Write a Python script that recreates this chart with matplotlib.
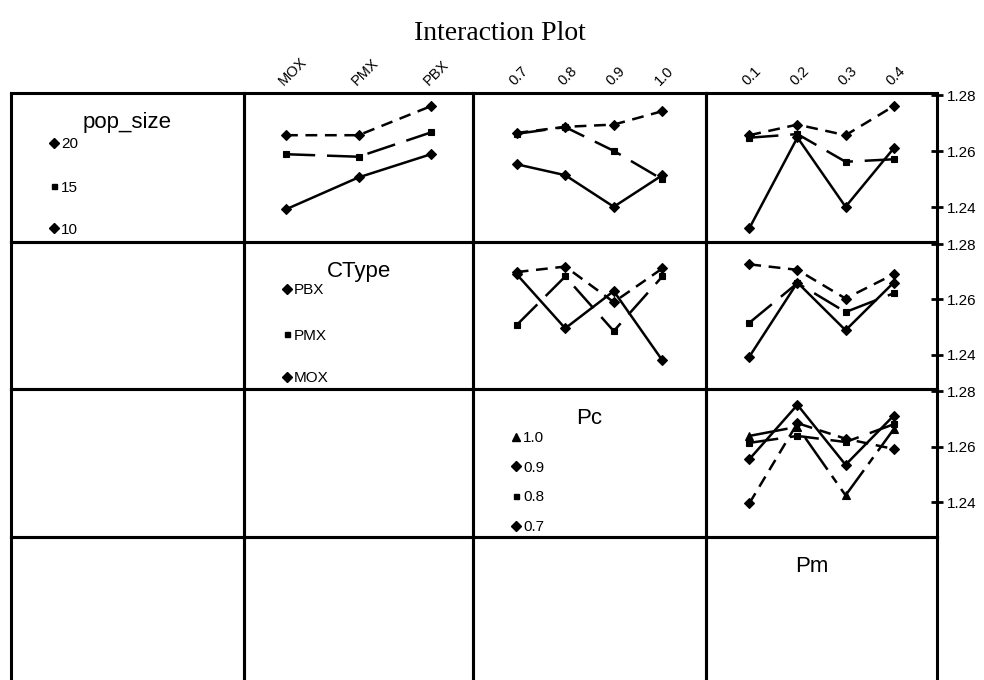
import matplotlib
matplotlib.use("Agg")
import matplotlib.pyplot as plt

plt.rcParams['font.family'] = ['Liberation Sans', 'DejaVu Sans']
plt.rcParams['lines.scale_dashes'] = False

# ---------------- data ----------------
factor_names = ['pop_size', 'CType', 'Pc', 'Pm']
pop_levels = ['10', '15', '20']
ctype_levels = ['MOX', 'PMX', 'PBX']
pc_levels = ['0.7', '0.8', '0.9', '1.0']
pm_levels = ['0.1', '0.2', '0.3', '0.4']

# pop_size (lines) vs CType / Pc / Pm (x)
pop10_ctype = [1.2392, 1.2506, 1.2589]
pop15_ctype = [1.2589, 1.2580, 1.2667]
pop20_ctype = [1.2657, 1.2657, 1.2761]

pop10_pc = [1.2553, 1.2514, 1.2401, 1.2514]
pop15_pc = [1.2662, 1.2686, 1.2601, 1.2499]
pop20_pc = [1.2665, 1.2687, 1.2695, 1.2743]

pop10_pm = [1.2324, 1.2649, 1.2401, 1.2610]
pop15_pm = [1.2648, 1.2661, 1.2562, 1.2571]
pop20_pm = [1.2657, 1.2695, 1.2657, 1.2761]

# CType (lines) vs Pc / Pm (x)
mox_pc = [1.2691, 1.2495, 1.2630, 1.2379]
pmx_pc = [1.2507, 1.2683, 1.2485, 1.2683]
pbx_pc = [1.2699, 1.2719, 1.2590, 1.2712]

mox_pm = [1.2392, 1.2661, 1.2488, 1.2661]
pmx_pm = [1.2515, 1.2659, 1.2554, 1.2622]
pbx_pm = [1.2727, 1.2707, 1.2603, 1.2691]

# Pc (lines) vs Pm (x)
pc07_pm = [1.2555, 1.2751, 1.2535, 1.2712]
pc08_pm = [1.2614, 1.2639, 1.2617, 1.2681]
pc09_pm = [1.2396, 1.2685, 1.2629, 1.2592]
pc10_pm = [1.2639, 1.2672, 1.2425, 1.2663]

y_ticks = [1.24, 1.26, 1.28]
y_ticklabels = ['1.24', '1.26', '1.28']

levels = [pop_levels, ctype_levels, pc_levels, pm_levels]
means = {
    (0, 1): [pop10_ctype, pop15_ctype, pop20_ctype],
    (0, 2): [pop10_pc, pop15_pc, pop20_pc],
    (0, 3): [pop10_pm, pop15_pm, pop20_pm],
    (1, 2): [mox_pc, pmx_pc, pbx_pc],
    (1, 3): [mox_pm, pmx_pm, pbx_pm],
    (2, 3): [pc07_pm, pc08_pm, pc09_pm, pc10_pm],
}

# ---------------- styles ----------------
markers = {0: ['D', 's', 'D'], 1: ['D', 's', 'D'], 2: ['D', 's', 'D', '^']}
msize = {'D': 5.2, 's': 4.6, '^': 6.0}
leg_msize = {'D': 4.6, 's': 3.6, '^': 5.2}
linestyles = ['-', (0, (21, 8.5)), (0, (8.5, 5.5)), (0, (28, 5.5, 6, 5.5))]

W, H = 984, 680
fig = plt.figure(figsize=(W / 100, H / 100), dpi=100)

col_px = [11, 244, 473, 706, 937]
row_px = [93, 242, 389, 537, 685]
YLIM = (1.2275, 1.2808)


def cell(r, c):
    x0, x1 = col_px[c], col_px[c + 1]
    y0, y1 = row_px[r], row_px[r + 1]
    ax = fig.add_axes([x0 / W, 1 - y1 / H, (x1 - x0) / W, (y1 - y0) / H])
    for s in ax.spines.values():
        s.set_linewidth(2.2)
        s.set_color('black')
    ax.set_xticks([])
    ax.set_yticks([])
    ax.patch.set_alpha(0)
    return ax, x1 - x0, y1 - y0


# title
fig.text(500 / W, 1 - 40 / H, 'Interaction Plot', ha='center', va='baseline',
         fontsize=20, family=['Liberation Serif', 'DejaVu Serif'])

legend_rows_px = {0: [50, 93, 135], 1: [47, 92, 135], 2: [47.7, 77, 106.7, 136.7]}

for r in range(4):
    for c in range(4):
        ax, cw, ch = cell(r, c)
        if c > r:
            n = len(levels[c])
            xs = list(range(n))
            ax.set_xlim(-0.58, 2.58) if n == 3 else ax.set_xlim(-0.9, 3.9)
            ax.set_ylim(*YLIM)
            for i, vals in enumerate(means[(r, c)]):
                m = markers[r][i]
                ax.plot(xs, vals, color='black', lw=1.8, linestyle=linestyles[i],
                        marker=m, ms=msize[m], mfc='black', mec='black', mew=0.8,
                        solid_joinstyle='miter', dash_capstyle='butt')
            if r == 0:
                ax.set_xticks(xs)
                ax.set_xticklabels(levels[c], rotation=45, ha='left',
                                   rotation_mode='anchor')
                ax.xaxis.tick_top()
                ax.tick_params(axis='x', length=0, pad=3.5, labelsize=10.5)
            if c == 3:
                ax.yaxis.tick_right()
                ax.set_yticks(y_ticks)
                ax.set_yticklabels(y_ticklabels)
                ax.tick_params(axis='y', direction='inout', length=9, width=2,
                               pad=2.5, labelsize=11)
        elif c == r:
            xc = 0.5 if r < 3 else 0.46
            ax.text(xc, 1 - 35 / ch, factor_names[r], transform=ax.transAxes,
                    ha='center', va='baseline', fontsize=16)
            if r < 3:
                labs = levels[r]
                mk = markers[r]
                order = list(range(len(labs)))[::-1]
                for k, idx in enumerate(order):
                    yf = 1 - legend_rows_px[r][k] / ch
                    xf = 43 / cw
                    m = mk[idx]
                    ax.plot([xf], [yf], transform=ax.transAxes, marker=m,
                            ms=leg_msize[m], color='black', linestyle='none',
                            clip_on=False)
                    ax.text(xf + 7 / cw, yf, labs[idx], transform=ax.transAxes,
                            ha='left', va='center_baseline', fontsize=11)

fig.savefig('out.png', dpi=100)
